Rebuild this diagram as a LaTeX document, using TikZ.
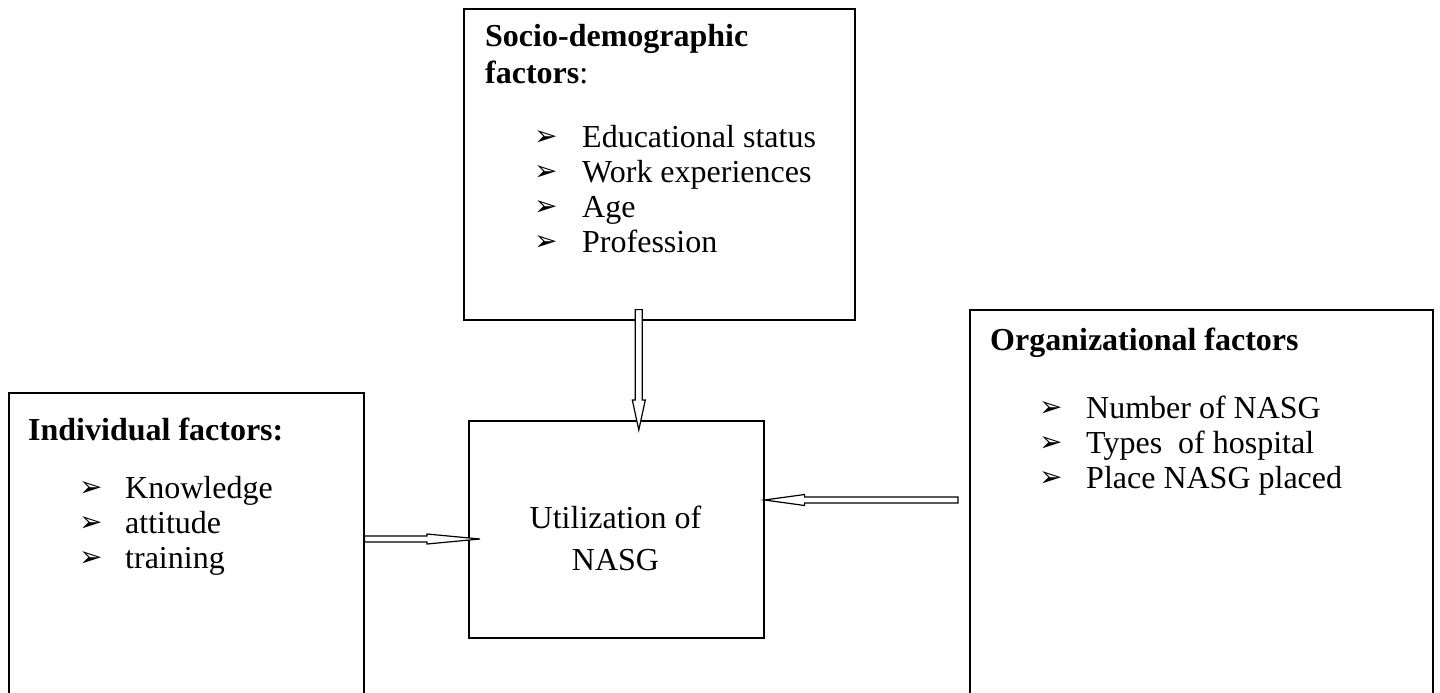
\documentclass[tikz,border=0pt]{standalone}
\usepackage{fontspec}
\setmainfont{Liberation Serif}
\newfontfamily\dingfont{DejaVu Sans}
\usetikzlibrary{calc}
\tikzset{
  box/.style={draw=black, line width=1.6pt, fill=none, inner sep=0pt, anchor=north west},
  txt/.style={anchor=base west, inner sep=0pt, font=\fontsize{32}{38}\selectfont},
  bul/.style={anchor=base west, inner sep=0pt, font=\dingfont\bfseries\fontsize{28}{30}\selectfont},
  blockarrow/.style n args={3}{draw=black, line width=1.2pt, fill=white, line join=miter,
    to path={
      let \p1=(\tikztostart), \p2=(\tikztotarget),
          \n1={atan2(\y2-\y1,\x2-\x1)}, \n2={veclen(\x2-\x1,\y2-\y1)} in
      ([shift={(\p1)},rotate=\n1]0pt,{#1*1pt})
      -- ([shift={(\p1)},rotate=\n1]{\n2*1pt-#3*1pt},{#1*1pt})
      -- ([shift={(\p1)},rotate=\n1]{\n2*1pt-#3*1pt},{#2*1pt})
      -- ([shift={(\p1)},rotate=\n1]{\n2*1pt},0pt)
      -- ([shift={(\p1)},rotate=\n1]{\n2*1pt-#3*1pt},{-#2*1pt})
      -- ([shift={(\p1)},rotate=\n1]{\n2*1pt-#3*1pt},{-#1*1pt})
      -- ([shift={(\p1)},rotate=\n1]0pt,{-#1*1pt}) -- cycle
    }}
}
\begin{document}
\begin{tikzpicture}[x=1pt,y=-1pt]
\useasboundingbox (0,0) rectangle (1440,693);
\clip (0,0) rectangle (1440,693);
\fill[white] (0,0) rectangle (1440,693);

% boxes
\node[box, minimum width=391pt, minimum height=311pt] (socio) at (463,8) {};
\node[box, minimum width=355pt, minimum height=320pt] (indiv) at (8,392) {};
\node[box, minimum width=463pt, minimum height=400pt] (org) at (969,309) {};
\node[box, minimum width=295pt, minimum height=217pt] (util) at (468,420) {};

% socio-demographic text
\node[txt] (sdh1) at (485,47) {\textbf{Socio-demographic}};
\node[txt] (sdh2) at (485,83) {\textbf{factors}:};
\node[bul] (sdb1) at (534,145) {➢};
\node[txt] (sdi1) at (582,147) {Educational status};
\node[bul] (sdb2) at (534,180) {➢};
\node[txt] (sdi2) at (582,182) {Work experiences};
\node[bul] (sdb3) at (534,215) {➢};
\node[txt] (sdi3) at (582,217) {Age};
\node[bul] (sdb4) at (534,250) {➢};
\node[txt] (sdi4) at (582,252) {Profession};

% individual text
\node[txt] (inh) at (28,440) {\textbf{Individual factors:}};
\node[bul] (inb1) at (79,496) {➢};
\node[txt] (ini1) at (125,498) {Knowledge};
\node[bul] (inb2) at (79,531) {➢};
\node[txt] (ini2) at (125,533) {attitude};
\node[bul] (inb3) at (79,566) {➢};
\node[txt] (ini3) at (125,568) {training};

% organizational text
\node[txt] (orh) at (990,350) {\textbf{Organizational factors}};
\node[bul] (orb1) at (1039,416) {➢};
\node[txt] (ori1) at (1086,418) {Number of NASG};
\node[bul] (orb2) at (1039,451) {➢};
\node[txt] (ori2) at (1086,453) {Types\ \ of hospital};
\node[bul] (orb3) at (1039,486) {➢};
\node[txt] (ori3) at (1086,488) {Place NASG placed};

% center text
\node[txt, anchor=base] (ut1) at (615.5,528) {Utilization of};
\node[txt, anchor=base] (ut2) at (615.5,570) {NASG};

% arrows
\draw[blockarrow={3.5}{6.5}{30}] ($(socio.south)+(-20.5,-11)$) to ($(util.north)+(22.5,10)$);
\draw[blockarrow={3}{5}{53}] ($(indiv.north east)+(0,147)$) to ($(util.north west)+(12,119)$);
\draw[blockarrow={3}{5.5}{40}] ($(org.north west)+(-11,191)$) to ($(util.north east)+(0,80)$);
\end{tikzpicture}
\end{document}
